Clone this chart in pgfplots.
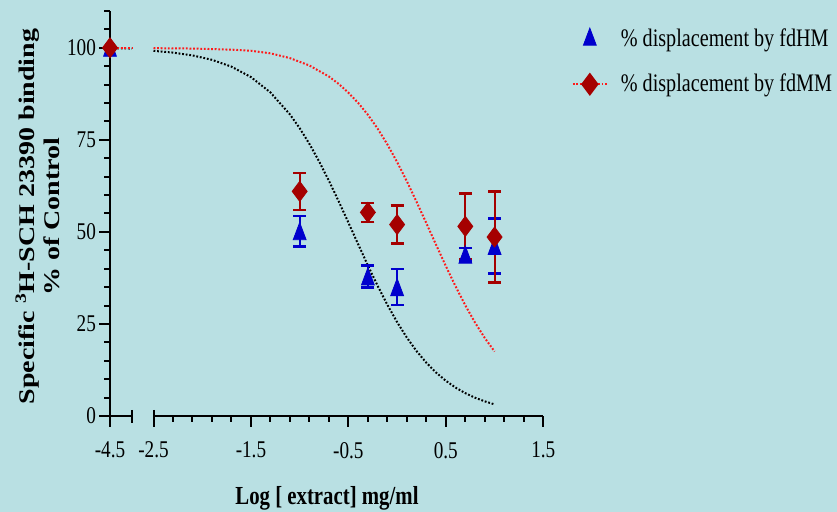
\documentclass[border=0pt]{standalone}
\usepackage{fontspec}
\setmainfont{Liberation Serif}[FakeStretch=0.8]
\newfontfamily\ylfont{Liberation Serif}
\usepackage{graphicx}
\usepackage{pgfplots}
\pgfplotsset{compat=1.18}

\definecolor{bgcol}{RGB}{185,224,227}
\definecolor{hmblue}{RGB}{0,0,205}
\definecolor{mmred}{RGB}{165,0,0}
\definecolor{fitred}{RGB}{255,25,25}

\pgfplotsset{
  brk/.style={
    scale only axis, height=202.5pt,
    ymin=0, ymax=110,
    clip=false, axis on top,
    axis line style={-, line width=1pt},
    tick align=outside,
    major tick length=5.5pt, minor tick length=3pt,
    tick style={line width=1pt, black},
    tick label style={font=\fontsize{12}{14}\selectfont},
    xticklabel style={yshift=-4pt},
    yticklabel style={xshift=2pt},
  },
  hm/.style={only marks, mark=triangle*, mark size=5.7pt, color=hmblue,
    mark options={xscale=0.65, yshift=-1.4pt, fill=hmblue, draw=hmblue},
    error bars/.cd, y dir=both, y explicit,
    error bar style={line width=1pt, hmblue},
    error mark options={rotate=90, mark size=3.2pt, line width=1.3pt, hmblue},
    /pgfplots/.cd},
  mm/.style={only marks, mark=diamond*, mark size=5pt, color=mmred,
    mark options={fill=mmred, draw=mmred},
    error bars/.cd, y dir=both, y explicit,
    error bar style={line width=1pt, mmred},
    error mark options={rotate=90, mark size=3.2pt, line width=1.3pt, mmred},
    /pgfplots/.cd},
  fitk/.style={black, line width=1pt, dash pattern=on 0.9pt off 0.9pt, no marks},
  fitr/.style={fitred, line width=1pt, dash pattern=on 0.9pt off 0.9pt, no marks},
}

\begin{document}
\begin{tikzpicture}
\fill[bgcol] (0,0) rectangle (418.5pt,256pt);

%% left piece of the broken x axis
\begin{axis}[brk, at={(55pt,48pt)}, anchor=south west, width=11pt,
  xmin=-4.5, xmax=-4.2744,
  axis x line*=bottom, axis y line*=left,
  xtick={-4.5}, xticklabels={-4.5},
  ytick={0,25,50,75,100}, yticklabels={0,25,50,75,100},
  minor ytick={5,10,15,20,30,35,40,45,55,60,65,70,80,85,90,95,105,110},
]
\addplot[fitk] coordinates {(-4.5,99.9) (-4.2744,99.8)};
\addplot[fitr] coordinates {(-4.5,100) (-4.2744,100)};
\addplot[forget plot, hm] coordinates {(-4.5,100) +- (0,0)};
\addplot[forget plot, mm] coordinates {(-4.5,100) +- (0,0)};
\draw[line width=1pt] ([yshift=3pt]axis cs:-4.2744,0) -- ([yshift=-3.5pt]axis cs:-4.2744,0);
\end{axis}

%% right piece
\begin{axis}[brk, at={(76.75pt,48pt)}, anchor=south west, width=194.9pt,
  xmin=-2.5, xmax=1.5,
  axis x line*=bottom, axis y line=none, ytick=\empty,
  xtick={-2.5,-1.5,-0.5,0.5,1.5}, xticklabels={-2.5,-1.5,-0.5,0.5,1.5},
  minor xtick={-2.3,-2.1,-1.9,-1.7,-1.3,-1.1,-0.9,-0.7,-0.3,-0.1,0.1,0.3,0.7,0.9,1.1,1.3},
  legend style={at={(1.072,0.966)}, anchor=north west, draw=none, fill=none,
    font=\fontsize{12.6}{14}\selectfont, row sep=8pt, inner sep=0pt,
    /tikz/every odd column/.append style={column sep=4.5pt}},
  legend cell align=left,
]
\addlegendimage{only marks, mark=triangle*, mark size=5.7pt, hmblue,
  mark options={xscale=0.65, fill=hmblue, draw=hmblue}}
\addlegendentry{\% displacement by fdHM}
\addlegendimage{fitred, line width=1pt, dash pattern=on 0.9pt off 0.9pt,
  mark=diamond*, mark size=5pt, mark options={solid, fill=mmred, draw=mmred}}
\addlegendentry{\% displacement by fdMM}

\addplot[forget plot, fitk] coordinates {
  (-2.5,99.18) (-2.3,98.70) (-2.1,97.93) (-1.9,96.74) (-1.7,94.88) (-1.5,92.05)
  (-1.3,87.87) (-1.1,81.91) (-1.0,78.17) (-0.9,73.89) (-0.8,69.12) (-0.7,63.89)
  (-0.6,58.33) (-0.5,52.52) (-0.4,46.66) (-0.3,40.88) (-0.2,35.35) (-0.1,30.19)
  (0.0,25.48) (0.1,21.28) (0.2,17.61) (0.3,14.46) (0.4,11.79) (0.5,9.56)
  (0.6,7.71) (0.7,6.20) (0.8,4.96) (0.9,3.97) (1.0,3.16)
};
\addplot[forget plot, fitr] coordinates {
  (-2.5,99.9) (-2.1,99.8) (-1.7,99.5) (-1.5,99.2) (-1.3,98.5) (-1.1,97.2)
  (-0.9,95.2) (-0.7,92.2) (-0.6,90.2) (-0.5,87.80) (-0.4,85.04) (-0.3,81.80)
  (-0.2,78.05) (-0.1,73.76) (0.0,68.97) (0.1,63.73) (0.2,58.15) (0.3,52.35)
  (0.4,46.48) (0.5,40.71) (0.6,35.19) (0.7,30.04) (0.8,25.34) (0.9,21.16)
  (1.0,17.51)
};
\addplot[forget plot, hm] coordinates {
  (-1,50.2) +- (0,4.1)
  (-0.3,37.9) +- (0,3.0)
  (0,35.0) +- (0,4.9)
  (0.7,43.8) +- (0,1.8)
  (1,46.2) +- (0,7.5)
};
\addplot[forget plot, mm] coordinates {
  (-1,61.0) +- (0,5.0)
  (-0.3,55.3) +- (0,2.6)
  (0,52.0) +- (0,5.1)
  (0.7,51.5) +- (0,8.9)
  (1,48.6) +- (0,12.3)
};
\draw[line width=1pt] ([yshift=3pt]axis cs:-2.5,0) -- ([yshift=-3.5pt]axis cs:-2.5,0);
\end{axis}

\node[anchor=center, font=\bfseries\fontsize{13}{15}\selectfont]
  at (163.5pt,7pt) {Log [ extract] mg/ml};
\node[rotate=90, anchor=center] at (20.5pt,147.75pt)
  {\scalebox{1}[0.8]{\ylfont\bfseries\fontsize{14}{15.6}\selectfont
   \begin{tabular}{@{}c@{}}Specific \textsuperscript{3}H-SCH 23390 binding\\
   \% of Control\end{tabular}}};

\pgfresetboundingbox
\path (0,0) rectangle (418.5pt,256pt);
\end{tikzpicture}
\end{document}
